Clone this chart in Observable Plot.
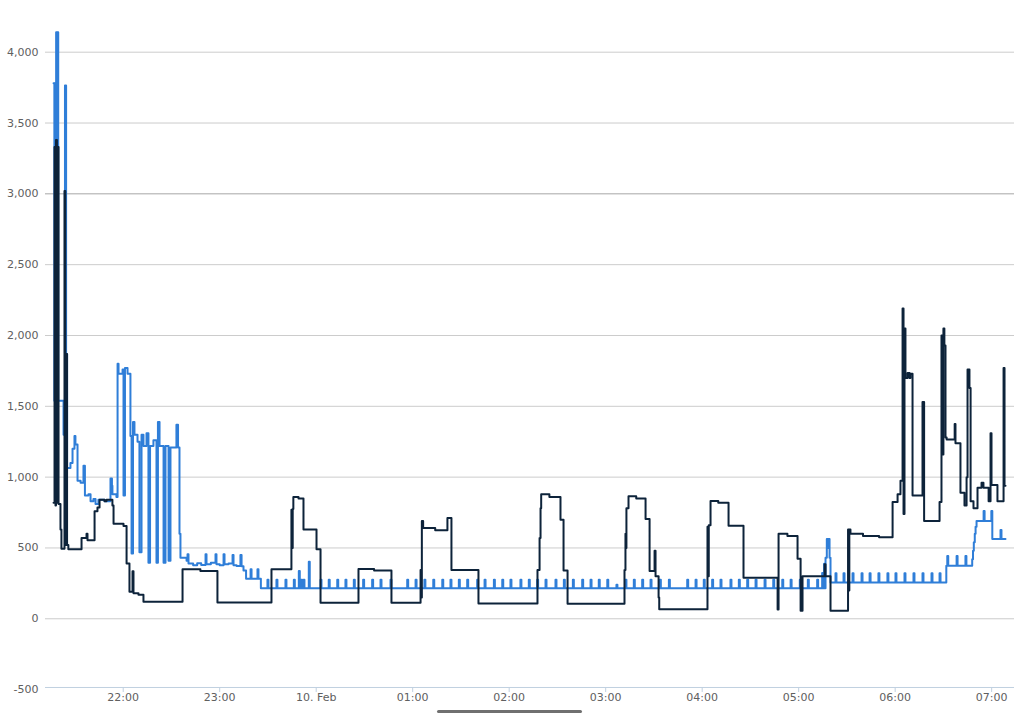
<!DOCTYPE html>
<html><head><meta charset="utf-8">
<script src="https://cdn.jsdelivr.net/npm/d3@7"></script>
<script src="https://cdn.jsdelivr.net/npm/@observablehq/plot@0.6"></script>
<style>
body{margin:0;background:#fff;overflow:hidden}
#chart{position:relative;width:1024px;height:713px}
#scroll{position:absolute;left:437px;top:710px;width:145px;height:3px;background:#707070;border-radius:2px}
</style>
</head><body><div id="chart"></div><div id="scroll"></div>
<script>
// time base: 9 Feb 21:00 (UTC); all times are minutes after it
const baseTime = Date.UTC(2013, 1, 9, 21, 0);

// x-axis ticks
const tickMinutes = [60, 120, 180, 240, 300, 360, 420, 480, 540, 600];
const tickLabels = ["22:00", "23:00", "10. Feb", "01:00", "02:00", "03:00", "04:00", "05:00", "06:00", "07:00"];
// y-axis ticks
const yTicks = [-500, 0, 500, 1000, 1500, 2000, 2500, 3000, 3500, 4000];

// dark series (step)
const darkMinutes = [16.7,17.3,17.9,18.2,18.8,19.2,19.8,21.0,21.6,23.5,24.0,24.6,25.1,25.9,34.1,37.2,37.8,42.2,44.0,45.3,48.4,49.6,53.3,54.0,60.2,62.1,63.9,65.8,66.4,69.5,72.6,96.9,108,118.6,152.2,164.6,165.0,165.4,165.8,169,172.1,180.2,182.7,206.3,216,226.8,244.9,245.3,245.7,246.5,254,261.6,264.1,280.9,317.6,318.9,319.5,319.9,325,331.9,333.8,336.3,371.7,372.3,372.6,372.9,374.2,379,384.8,387.3,390.4,391.0,392.9,393.3,423.3,423.7,424.1,425.2,430,436.4,445.7,466.9,467.5,473,479.3,481.2,482.4,496.1,496.7,499.8,510.7,511.1,511.5,512.2,520,530,538.4,541.5,543.3,544.6,545.2,545.8,546.4,547.7,548.9,549.5,550.8,557.0,558.0,567.6,568.8,569.4,570.0,570.6,571.3,572.0,577.0,577.5,580.6,583.1,584.4,585.0,586.2,586.9,588.7,591.2,593.7,594.9,598.1,599.3,599.9,603.6,607.4,608.0,608.6];
const darkValues  = [820,3330,800,3380,820,3330,810,630,495,3020,520,1870,520,490,570,600,555,760,785,840,830,840,800,670,655,390,190,335,180,170,120,350,338,115,350,770,500,775,860,850,630,490,113,352,340,113,345,150,690,640,625,712,345,108,345,570,780,880,860,700,340,106,345,600,500,780,865,850,705,338,480,300,150,68,650,300,660,832,820,656,289,65,600,585,423,56,300,385,300,56,630,200,630,600,585,575,825,880,975,2190,740,2050,1700,1735,1700,1730,870,1530,690,825,2000,1160,2050,1930,1280,1265,1375,1240,890,800,1000,1760,1630,830,780,925,960,925,830,1310,945,830,1770,940,940];

// blue series (step) main level changes
const blueMinutes = [16.7,17.2,17.5,18.0,18.3,18.8,19.1,19.6,22.9,23.8,24.5,25.1,27.2,28.5,29.7,30.3,31.6,33.5,35.3,36.2,38.4,39.7,41.5,42.8,44.6,48.4,52.1,53.0,53.3,55.8,56.5,57.1,59.6,60.2,61.1,62.7,64.5,65.2,66.1,67.0,68.9,70.1,71.4,72.6,74.5,75.7,76.7,78.8,80.7,81.6,82.6,85.1,86.3,88.2,89.4,93.1,94.1,95.0,95.6,99.4,100.0,100.6,103.5,106.0,108.5,111.2,111.8,114.5,117.4,118.0,120.0,122.4,123.0,125.5,128.0,128.6,130.5,132.9,133.6,134.8,136.4,139.2,139.8,143.5,144.1,145.6,495.8,496.3,496.7,497.5,498.0,498.6,499.2,499.8,571.8,587.9,588.4,588.9,589.5,590.0,590.6,599.8,600.4,608.6];
const blueValues  = [3780,1540,3780,1540,4140,1540,4140,1540,1300,3765,1870,1065,1100,1200,1290,1230,975,960,1080,870,880,830,845,810,840,830,990,940,880,860,1800,1730,1760,870,1770,1730,1290,460,1390,1300,1250,470,1300,1220,1310,395,1220,1260,395,1390,1220,395,1220,410,1210,1370,1210,600,430,410,455,390,378,392,380,455,385,395,455,385,378,455,385,390,450,378,372,450,370,340,282,350,282,350,282,215,388,215,430,564,500,564,430,256,374,420,480,540,600,650,691,761,564,564];

// blue series short spikes: start minute, peak value, level it returns to
const blueSpikeMinutes = [149.7,155.3,160.9,166.1,169.2,170.7,172.1,175.4,182.7,187.8,193.1,198.2,203.4,209.2,214.8,220.0,226.2,236.6,241.8,247.3,252.8,258.4,263.5,268.7,273.9,280.1,284.7,290.5,295.7,300.8,307.0,312.2,317.4,322.6,328.8,334.0,339.6,345.4,350.6,355.7,361.0,366.7,372.3,377.5,382.7,387.9,393.7,399.3,410.7,415.9,421.0,426.2,431.4,437.6,442.8,448.0,453.2,458.8,464.2,469.8,475.0,480.7,485.7,491.5,494.6,502.9,507.9,513.5,519.1,524.1,529.6,535.2,540.2,545.8,551.4,557.0,562.6,567.6,572.4,578.2,583.7,595.0,605.5];
const blueSpikePeaks   = [275,275,275,275,338,275,275,402,275,275,275,275,275,275,275,275,275,275,275,275,275,275,275,275,275,275,275,275,275,275,275,275,275,275,275,275,275,275,275,275,275,240,275,275,275,275,275,275,275,275,275,275,275,275,275,275,275,275,275,275,275,275,275,275,324,322,322,322,322,322,322,322,322,322,322,322,322,322,444,444,444,761,627];
const blueSpikeBases   = [215,215,215,215,215,215,215,215,215,215,215,215,215,215,215,215,215,215,215,215,215,215,215,215,215,215,215,215,215,215,215,215,215,215,215,215,215,215,215,215,215,215,215,215,215,215,215,215,215,215,215,215,215,215,215,215,215,215,215,215,215,215,215,215,215,256,256,256,256,256,256,256,256,256,256,256,256,256,374,374,374,691,564];

const toDate = m => new Date(baseTime + m * 60000);

const dark = darkMinutes.map((m, i) => ({t: toDate(m), v: darkValues[i]}));
const blueRaw = blueMinutes.map((m, i) => ({m, v: blueValues[i]}));
blueSpikeMinutes.forEach((m, i) => {
  blueRaw.push({m, v: blueSpikePeaks[i]});
  blueRaw.push({m: m + 0.6, v: blueSpikeBases[i]});
});
blueRaw.sort((a, b) => a.m - b.m);
const blue = blueRaw.map(d => ({t: toDate(d.m), v: d.v}));

const labelMap = new Map(tickMinutes.map((m, i) => [+toDate(m), tickLabels[i]]));
const yFmt = d => (d < 0 ? "-" : "") + d3.format(",")(Math.abs(d));

const chart = Plot.plot({
  width: 1024,
  height: 713,
  marginLeft: 45,
  marginRight: 10,
  marginTop: 8,
  marginBottom: 26,
  x: {type: "utc", domain: [toDate(11.69), toDate(614.2)]},
  y: {domain: [-500, 4300], range: [689.1, 9.2]},
  style: {fontFamily: "DejaVu Sans", fontSize: "11px", background: "#fff", overflow: "visible"},
  marks: [
    Plot.ruleY(yTicks.filter(d => d >= 0 && d !== 3000), {stroke: "#cccccc"}),
    Plot.ruleY([3000], {stroke: "#a6a6a6"}),
    Plot.ruleY([-485], {stroke: "#c0d0e0"}),
    Plot.axisY({ticks: yTicks, tickSize: 0, tickPadding: 7, tickFormat: yFmt, fill: "#606060", label: null}),
    Plot.axisX({ticks: tickMinutes.map(toDate), tickFormat: d => labelMap.get(+d), tickSize: 5, tickPadding: 1, stroke: "#c0d0e0", fill: "#606060", label: null}),
    Plot.line(blue, {x: "t", y: "v", curve: "step-after", stroke: "#2f7ed8", strokeWidth: 2, clip: true}),
    Plot.line(dark, {x: "t", y: "v", curve: "step-after", stroke: "#0d233a", strokeWidth: 2, clip: true})
  ]
});
document.getElementById("chart").appendChild(chart);
</script>
</body></html>
